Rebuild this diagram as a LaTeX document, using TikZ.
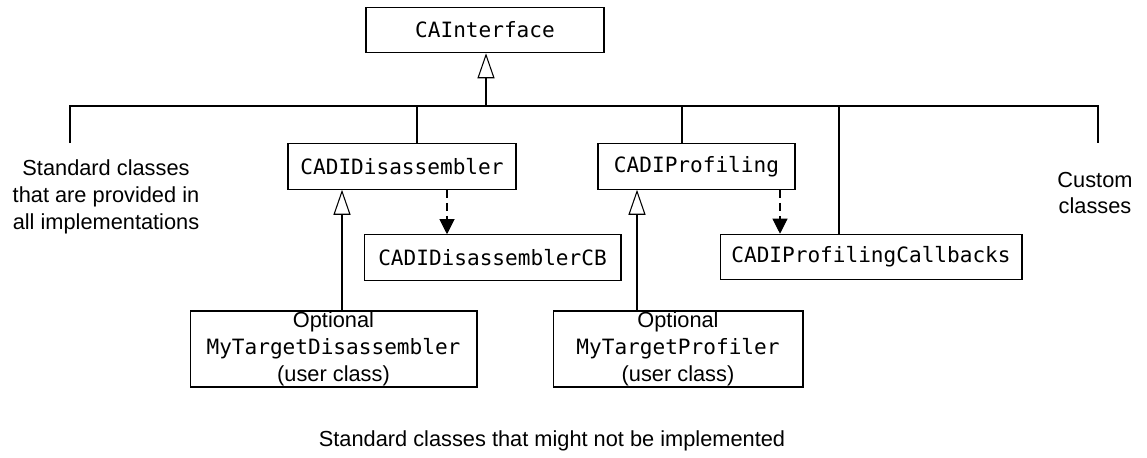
\documentclass[tikz,border=0pt]{standalone}
\usepackage{fontspec}
\setmainfont{Liberation Sans}
\setmonofont{DejaVu Sans Mono}
\usetikzlibrary{calc,positioning,arrows.meta}

\begin{document}
\begin{tikzpicture}[
  x=0.02cm, y=-0.02cm,
  line width=.6pt,
  font=\fontsize{12.4}{15.2}\selectfont,
  classbox/.style={rectangle,draw=black,line width=.6pt,inner sep=0pt,minimum height=.91cm,font=\fontsize{12}{15}\ttfamily},
  userbox/.style={rectangle,draw=black,line width=.6pt,inner sep=0pt,minimum height=1.52cm,align=center},
  note/.style={draw=none,align=center},
  inherit/.style={-{Triangle[open,length=.5cm,width=.34cm]}},
  uses/.style={-{Triangle[length=.3cm,width=.3cm]},dash pattern=on .16cm off .1cm},
  ]

  \useasboundingbox (0,0) rectangle (1147,457);

  \node (ca_interface) [classbox,minimum width=4.76cm] at (485,30) {CAInterface};

  \node (cadi_dis) [classbox,minimum width=4.56cm] at (402,166.5) {CADIDisassembler};
  \node (cadi_prof) [classbox,minimum width=3.94cm] at (696.5,166.5) {CADIProfiling};

  \node (cadi_dis_cb) [classbox,minimum width=5.14cm] at (492.5,257.5) {CADIDisassemblerCB};
  \node (cadi_prof_cb) [classbox,minimum width=6.04cm] at (871,257) {CADIProfilingCallbacks};

  \node (my_dis) [userbox,minimum width=5.74cm] at (333.5,349) {Optional\\\texttt{\fontsize{12}{15}\selectfont MyTargetDisassembler}\\(user class)};
  \node (my_prof) [userbox,minimum width=5cm] at (678,349) {Optional\\\texttt{\fontsize{12}{15}\selectfont MyTargetProfiler}\\(user class)};

  \node (std_txt) [note] at (106,197) {Standard classes\\that are provided in\\all implementations};
  \node (custom_txt) [note] at (1095,193) {Custom\\classes};
  \node (maybe_txt) [note] at (552,441) {Standard classes that might not be implemented};

  % bus
  \foreach \n/\x in {0/70,1/417,2/486,3/682,4/839,5/1098}
  {
    \coordinate (bus_\n) at (\x,106);
  }
  \coordinate (drop_l) at (70,143);
  \coordinate (drop_r) at (1098,143);

  \draw (drop_l) -- (bus_0) -- (bus_5) -- (drop_r);
  \draw[inherit] (bus_2) -- (bus_2 |- ca_interface.south);
  \draw (bus_1) -- (bus_1 |- cadi_dis.north);
  \draw (bus_3) -- (bus_3 |- cadi_prof.north);
  \draw (bus_4) -- (bus_4 |- cadi_prof_cb.north);

  % callbacks
  \coordinate (dis_src) at ($(cadi_dis.south)+(45,0)$);
  \coordinate (prof_src) at ($(cadi_prof.south)+(83.5,0)$);
  \draw[uses] (dis_src) -- (dis_src |- cadi_dis_cb.north);
  \draw[uses] (prof_src) -- (prof_src |- cadi_prof_cb.north);

  % user classes
  \coordinate (my_dis_top) at ($(my_dis.north)+(8.5,0)$);
  \coordinate (my_prof_top) at ($(my_prof.north)+(-41,0)$);
  \draw[inherit] (my_dis_top) -- (my_dis_top |- cadi_dis.south);
  \draw[inherit] (my_prof_top) -- (my_prof_top |- cadi_prof.south);

\end{tikzpicture}
\end{document}
